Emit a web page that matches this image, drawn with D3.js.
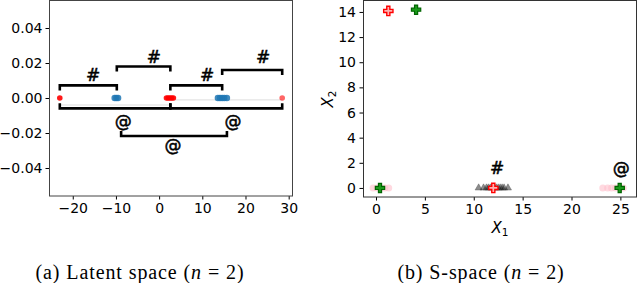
<!DOCTYPE html>
<html>
<head>
<meta charset="utf-8">
<script src="https://cdn.jsdelivr.net/npm/d3@7"></script>
<style>
  body { margin: 0; background: #fff; }
  .tick text { font-family: "DejaVu Sans", sans-serif; font-size: 14px; fill: #000; }
  .tick line { stroke: #000; }
</style>
</head>
<body>
<div id="chart"></div>
<script>
// ---- (a) latent space, every point sits on y = 0 ----
const latentRed = [-23, 1.7, 2.1, 2.5, 2.9, 3.3];
const latentRedFar = [28.5];
const latentBlue = [-10.3, -9.9, -9.5, 13.6, 14.1, 14.6, 15.1, 15.7];
const latentXTicks = [-20, -10, 0, 10, 20, 30];
const latentYTicks = [-0.04, -0.02, 0, 0.02, 0.04];
// brackets: [x0, x1, y]
const hashBrackets = [[-23, -9.8, 0.0072], [-9.8, 2.6, 0.018], [2.6, 14.6, 0.0072], [14.6, 28.5, 0.016]];
const hashLabels = [[-15.3, 0.0131], [-1.2, 0.0234], [11.1, 0.0131], [24.1, 0.0234]];
const atBrackets = [[-23, 2.6, -0.0059], [2.6, 28.5, -0.0059], [-8.8, 15.7, -0.0217]];
const atLabels = [[-8.3, -0.013], [17.1, -0.013], [3.2, -0.0269]];
const guideLines = [[-23, 2.6, -0.004], [2.6, 28.5, -0.0011]];

// ---- (b) S-space ----
const pinkX = [-0.3, 0.1, 0.5, 0.9, 1.3, 23.2, 23.7, 24.1, 24.5, 24.9, 25.3];
const triX = [10.5, 11.0, 11.3, 11.5, 11.7, 11.9, 12.1, 12.3, 12.5, 12.7, 12.9, 13.1, 13.5];
const redPlus = [[1.26, 14.08], [12.0, 0]];
const greenPlus = [[4.1, 14.18], [0.41, 0], [24.93, 0]];
const sLabels = [["#", 12.4, 1.6], ["@", 25.1, 1.6]];
const sXTicks = [0, 5, 10, 15, 20, 25];
const sYTicks = [0, 2, 4, 6, 8, 10, 12, 14];

const W = 640, H = 283;
const svg = d3.select("#chart").append("svg")
    .attr("width", W).attr("height", H);

const fmtMinus = s => s.replace("-", "\u2212");
const markText = sel => sel
    .attr("dy", "0.36em").attr("text-anchor", "middle")
    .style("font-family", "DejaVu Sans").style("font-size", "17px")
    .style("stroke", "#000").style("stroke-width", 0.5);

// ================= left panel =================
const x1 = d3.scaleLinear().domain([-25.5, 31]).range([49, 293]);
const y1 = d3.scaleLinear().domain([-0.056, 0.056]).range([196, 0]);
const left = svg.append("g");

left.append("g")
    .attr("transform", "translate(0,196)")
    .call(d3.axisBottom(x1).tickValues(latentXTicks).tickSize(3.5).tickPadding(3.5)
        .tickFormat(d => fmtMinus(String(d))))
    .call(g => g.select(".domain").remove());
left.append("g")
    .attr("transform", "translate(49,0)")
    .call(d3.axisLeft(y1).tickValues(latentYTicks).tickSize(3.5).tickPadding(3)
        .tickFormat(d => fmtMinus(d3.format(".2f")(d))))
    .call(g => g.select(".domain").remove());

left.append("rect")
    .attr("x", 49.5).attr("y", 0.5).attr("width", 243).attr("height", 195.5)
    .attr("fill", "none").attr("stroke", "#444");

left.selectAll(".guide").data(guideLines).enter().append("line")
    .attr("x1", d => x1(d[0])).attr("x2", d => x1(d[1]))
    .attr("y1", d => y1(d[2])).attr("y2", d => y1(d[2]))
    .attr("stroke", "#ddd").attr("stroke-width", 1);

left.selectAll(".red").data(latentRed).enter().append("circle")
    .attr("cx", d => x1(d)).attr("cy", y1(0)).attr("r", 2.8)
    .attr("fill", "#ff0000").attr("opacity", 0.9);
left.selectAll(".redfar").data(latentRedFar).enter().append("circle")
    .attr("cx", d => x1(d)).attr("cy", y1(0)).attr("r", 2.8)
    .attr("fill", "#ff0000").attr("opacity", 0.6);
left.selectAll(".blue").data(latentBlue).enter().append("circle")
    .attr("cx", d => x1(d)).attr("cy", y1(0)).attr("r", 3.2)
    .attr("fill", "#1f77b4").attr("opacity", 0.85);

// brackets: hash ones open downwards, @ ones open upwards
const bracketPath = (d, dir) => {
    const a = x1(d[0]), b = x1(d[1]), y = y1(d[2]);
    return `M${a},${y + dir * 5}V${y}H${b}V${y + dir * 5}`;
};
left.selectAll(".hb").data(hashBrackets).enter().append("path")
    .attr("d", d => bracketPath(d, 1))
    .attr("fill", "none").attr("stroke", "#000").attr("stroke-width", 2.6);
left.selectAll(".ab").data(atBrackets).enter().append("path")
    .attr("d", d => bracketPath(d, -1))
    .attr("fill", "none").attr("stroke", "#000").attr("stroke-width", 2.6);

left.selectAll(".hl").data(hashLabels).enter().append("text")
    .attr("x", d => x1(d[0])).attr("y", d => y1(d[1]))
    .call(markText).text("#");
left.selectAll(".al").data(atLabels).enter().append("text")
    .attr("x", d => x1(d[0])).attr("y", d => y1(d[1]))
    .call(markText).text("@");

// ================= right panel =================
const x2 = d3.scaleLinear().domain([-1.33, 26.7]).range([363, 637]);
const y2 = d3.scaleLinear().domain([-0.72, 14.95]).range([197, 0]);
const right = svg.append("g");

right.append("g")
    .attr("transform", "translate(0,197)")
    .call(d3.axisBottom(x2).tickValues(sXTicks).tickSize(3.5).tickPadding(3.5))
    .call(g => g.select(".domain").remove());
right.append("g")
    .attr("transform", "translate(363,0)")
    .call(d3.axisLeft(y2).tickValues(sYTicks).tickSize(3.5).tickPadding(3.5))
    .call(g => g.select(".domain").remove());

right.append("rect")
    .attr("x", 363.5).attr("y", 0.5).attr("width", 273).attr("height", 196.5)
    .attr("fill", "none").attr("stroke", "#333");

right.selectAll(".pink").data(pinkX).enter().append("circle")
    .attr("cx", d => x2(d)).attr("cy", y2(0)).attr("r", 3.5)
    .attr("fill", "#ffc0cb").attr("opacity", 0.6);

const tri = d3.symbol().type(d3.symbolTriangle).size(22);
right.selectAll(".tri").data(triX).enter().append("path")
    .attr("d", tri)
    .attr("transform", d => `translate(${x2(d)},${y2(0)})`)
    .attr("fill", "#000").attr("fill-opacity", 0.45)
    .attr("stroke", "#555").attr("stroke-opacity", 0.5).attr("stroke-width", 0.8);

const plus = d3.symbol().type(d3.symbolCross).size(48);
right.selectAll(".rp").data(redPlus).enter().append("path")
    .attr("d", plus)
    .attr("transform", d => `translate(${x2(d[0])},${y2(d[1])})`)
    .attr("fill", "#ffb0b0").attr("stroke", "#ff0000").attr("stroke-width", 1.4);
right.selectAll(".gp").data(greenPlus).enter().append("path")
    .attr("d", plus)
    .attr("transform", d => `translate(${x2(d[0])},${y2(d[1])})`)
    .attr("fill", "#1a9a1a").attr("stroke", "#006400").attr("stroke-width", 1.2);

right.selectAll(".sl").data(sLabels).enter().append("text")
    .attr("x", d => x2(d[1])).attr("y", d => y2(d[2]))
    .call(markText).text(d => d[0]);

// axis titles
const xt = right.append("text")
    .attr("x", 500).attr("y", 233).attr("text-anchor", "middle")
    .style("font-family", "DejaVu Sans").style("font-size", "15px");
xt.append("tspan").style("font-style", "italic").text("X");
xt.append("tspan").attr("dy", 3).style("font-size", "10.5px").text("1");

const yt = right.append("text")
    .attr("transform", "translate(333,99) rotate(-90)").attr("text-anchor", "middle")
    .style("font-family", "DejaVu Sans").style("font-size", "15px");
yt.append("tspan").style("font-style", "italic").text("X");
yt.append("tspan").attr("dy", 3).style("font-size", "10.5px").text("2");

// ================= captions =================
const captions = [["(a) Latent space (", "n", " = 2)", 140], ["(b) S-space (", "n", " = 2)", 481]];
captions.forEach(c => {
    const t = svg.append("text")
        .attr("x", c[3]).attr("y", 279).attr("text-anchor", "middle")
        .style("font-family", "Liberation Serif").style("font-size", "20px")
        .style("letter-spacing", "0.9px");
    t.append("tspan").text(c[0]);
    t.append("tspan").style("font-style", "italic").text(c[1]);
    t.append("tspan").text(c[2]);
});
</script>
</body>
</html>
